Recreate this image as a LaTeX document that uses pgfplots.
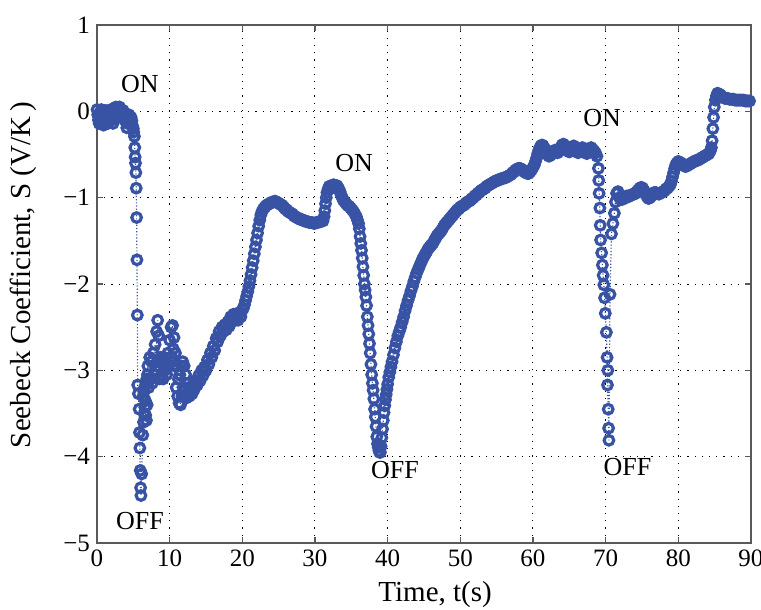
\documentclass[border=0pt]{standalone}
\usepackage{fontspec}
\setmainfont{Liberation Serif}
\usepackage{pgfplots}
\pgfplotsset{compat=1.18}
\definecolor{mblue}{RGB}{57,83,164}
\begin{document}
\begin{tikzpicture}
\useasboundingbox (-48.5pt,-33.5pt) rectangle (332pt,271.5pt);
\begin{axis}[
  at={(0,0)}, anchor=south west,
  width=327pt, height=259pt, scale only axis,
  xmin=0, xmax=90, ymin=-5, ymax=1,
  xtick={0,10,...,90},
  ytick={-5,-4,-3,-2,-1,0,1},
  yticklabels={−5,−4,−3,−2,−1,0,1},
  grid=major,
  major grid style={black, line width=0.5pt, dash pattern=on 0.6pt off 3pt},
  tick align=inside,
  major tick length=3pt,
  axis line style={line width=0.75pt, black!65},
  tick style={line width=0.6pt, black!65},
  tick label style={font=\fontsize{12.5}{14}\selectfont},
  /pgf/number format/assume math mode=true,
  xlabel={Time, t(s)},
  ylabel={Seebeck Coefficient, S (V/K\,)},
  label style={font=\fontsize{14.5}{16}\selectfont},
  xlabel style={at={(axis description cs:0.517,-0.1)}, anchor=center},
  ylabel style={at={(axis description cs:-0.113,0.517)}, anchor=center},
  clip=false,
]
\addplot[color=mblue, densely dotted, line width=0.6pt,
  mark=o, mark size=2.4pt, mark options={solid, line width=1.6pt}]
coordinates {
(0.0,0.02) (0.1,-0.04) (0.2,-0.10) (0.3,-0.14) (0.4,-0.07) (0.5,-0.01) (0.6,0.02) (0.7,-0.05)
(0.8,-0.12) (0.9,-0.16) (1.0,-0.10) (1.1,-0.03) (1.2,0.01) (1.3,-0.03) (1.4,-0.09) (1.5,-0.14)
(1.6,-0.10) (1.7,-0.04) (1.8,0.00) (1.9,0.02) (2.0,-0.04) (2.1,-0.10) (2.2,-0.14) (2.3,-0.07)
(2.4,-0.01) (2.5,0.03) (2.6,0.05) (2.7,0.04) (2.8,0.00) (2.9,-0.04) (3.0,0.02) (3.1,0.05)
(3.2,0.03) (3.3,-0.02) (3.4,-0.07) (3.5,-0.03) (3.6,0.01) (3.7,-0.05) (3.8,-0.10) (3.9,-0.06)
(4.0,-0.12) (4.1,-0.19) (4.2,-0.14) (4.3,-0.08) (4.4,-0.04) (4.5,-0.09) (4.6,-0.14) (4.7,-0.07)
(4.8,-0.11) (4.9,-0.17) (5.0,-0.20) (5.05,-0.24)
(5.15,-0.29) (5.2,-0.42) (5.25,-0.53) (5.3,-0.60) (5.35,-0.71) (5.4,-0.89) (5.45,-1.23) (5.5,-1.72)
(5.55,-2.36) (5.6,-3.17) (5.7,-3.27) (5.8,-3.45) (5.85,-3.72) (5.9,-3.90) (5.95,-4.16) (6.0,-4.36)
(6.05,-4.45) (6.15,-4.2) (6.3,-3.75) (6.35,-3.3) (6.4,-3.6) (6.45,-3.25) (6.5,-3.5) (6.55,-3.2)
(6.6,-3.43) (6.65,-3.35) (6.7,-3.52) (6.75,-3.15) (6.8,-3.58) (6.85,-3.1) (6.9,-3.4) (6.95,-3.05)
(7.0,-2.95) (7.1,-3.2) (7.25,-2.85) (7.35,-3.1) (7.5,-2.9) (7.6,-3.15) (7.75,-2.8) (7.85,-3.05)
(8.0,-2.7) (8.1,-3.0) (8.2,-2.55) (8.3,-2.9) (8.35,-2.42) (8.45,-2.95) (8.5,-2.6) (8.6,-3.1)
(8.75,-2.85) (8.85,-3.05) (9.0,-2.9) (9.1,-3.1) (9.25,-2.85) (9.35,-3.0) (9.5,-2.88) (9.6,-3.05)
(9.75,-2.8) (9.85,-2.95) (10.0,-2.65) (10.1,-2.9) (10.2,-2.5) (10.3,-2.85) (10.4,-2.48) (10.5,-2.75)
(10.6,-2.62) (10.7,-2.95) (10.8,-2.8) (10.9,-3.2) (11.0,-2.95) (11.1,-3.3) (11.2,-3.1) (11.3,-3.38)
(11.4,-3.05) (11.5,-3.4) (11.6,-2.95) (11.7,-3.3) (11.8,-2.9) (11.9,-3.2) (12.0,-2.95) (12.1,-3.3)
(12.2,-3.05) (12.3,-3.32) (12.4,-3.15) (12.5,-3.3) (12.6,-3.2) (12.7,-3.3) (12.8,-3.22) (12.9,-3.28)
(13.0,-3.2) (13.1,-3.27)
(13.2,-3.17) (13.4,-3.22) (13.6,-3.12) (13.8,-3.17) (14.0,-3.06) (14.2,-3.12) (14.4,-3.0) (14.6,-3.06)
(14.8,-2.96) (15.0,-3.0) (15.2,-2.88) (15.4,-2.93) (15.6,-2.8) (15.8,-2.85) (16.0,-2.72) (16.2,-2.77)
(16.4,-2.63) (16.6,-2.67) (16.8,-2.55) (17.0,-2.6) (17.2,-2.5) (17.4,-2.55) (17.6,-2.47) (17.8,-2.53)
(18.0,-2.44) (18.2,-2.49) (18.4,-2.38) (18.6,-2.43) (18.8,-2.35) (19.0,-2.42) (19.2,-2.37) (19.4,-2.42)
(19.6,-2.33) (19.8,-2.38) (20.0,-2.30) (20.15,-2.28) (20.3,-2.24) (20.45,-2.19) (20.6,-2.14) (20.75,-2.09)
(20.9,-2.03) (21.05,-1.96) (21.2,-1.89) (21.35,-1.81) (21.5,-1.73) (21.65,-1.65) (21.8,-1.57) (21.95,-1.49)
(22.1,-1.41) (22.25,-1.33) (22.4,-1.26) (22.55,-1.2) (22.7,-1.16) (22.9,-1.13) (23.1,-1.11) (23.3,-1.09)
(23.5,-1.08) (23.7,-1.07) (23.9,-1.06) (24.1,-1.05) (24.3,-1.05) (24.5,-1.04) (24.7,-1.05) (24.9,-1.06)
(25.1,-1.07) (25.3,-1.08) (25.5,-1.09) (25.7,-1.11) (25.9,-1.13) (26.1,-1.14) (26.3,-1.16) (26.5,-1.17)
(26.7,-1.18) (26.9,-1.19) (27.1,-1.21) (27.3,-1.22) (27.5,-1.23) (27.7,-1.24) (27.9,-1.25) (28.1,-1.25)
(28.3,-1.26) (28.5,-1.27) (28.7,-1.27) (28.9,-1.28) (29.1,-1.28) (29.3,-1.29) (29.5,-1.29) (29.7,-1.29)
(29.9,-1.30) (30.1,-1.29) (30.3,-1.29) (30.5,-1.28) (30.7,-1.28) (30.9,-1.27) (31.1,-1.27) (31.25,-1.22)
(31.35,-1.15) (31.45,-1.07) (31.55,-1.0) (31.65,-0.94) (31.8,-0.9) (31.95,-0.87) (32.1,-0.89) (32.25,-0.86)
(32.4,-0.88) (32.55,-0.85) (32.7,-0.87) (32.85,-0.89) (33.0,-0.86) (33.15,-0.88) (33.3,-0.9) (33.45,-0.93)
(33.6,-0.97) (33.75,-1.0) (33.9,-1.03) (34.1,-1.05) (34.3,-1.07) (34.5,-1.09) (34.7,-1.1) (34.9,-1.12)
(35.1,-1.14) (35.3,-1.16) (35.5,-1.19) (35.7,-1.22) (35.85,-1.26) (36.0,-1.3)
(36.1,-1.36) (36.2,-1.45) (36.3,-1.53) (36.4,-1.61) (36.5,-1.70) (36.6,-1.80) (36.7,-1.90) (36.8,-2.0)
(36.9,-2.07) (37.0,-2.15) (37.1,-2.25) (37.2,-2.38) (37.3,-2.48) (37.4,-2.58) (37.5,-2.69) (37.6,-2.80)
(37.7,-2.93) (37.8,-3.05) (37.9,-3.15) (38.0,-3.23) (38.1,-3.33) (38.2,-3.45) (38.3,-3.54) (38.4,-3.65)
(38.5,-3.77) (38.6,-3.85) (38.7,-3.89) (38.8,-3.93) (38.9,-3.95)
(39.0,-3.95) (39.1,-3.88) (39.2,-3.78) (39.3,-3.68) (39.4,-3.58) (39.5,-3.49) (39.6,-3.41) (39.7,-3.34)
(39.8,-3.28) (39.9,-3.22) (40.0,-3.16) (40.15,-3.08) (40.3,-3.02) (40.45,-2.96) (40.6,-2.9) (40.8,-2.82)
(41.0,-2.74) (41.2,-2.67) (41.4,-2.6) (41.6,-2.55) (41.8,-2.5) (42.0,-2.44) (42.2,-2.38) (42.4,-2.31)
(42.6,-2.25) (42.8,-2.19) (43.0,-2.14) (43.2,-2.08) (43.4,-2.03) (43.6,-1.97) (43.8,-1.92) (44.0,-1.87)
(44.2,-1.83) (44.4,-1.79) (44.6,-1.75) (44.8,-1.71) (45.0,-1.68) (45.2,-1.65) (45.4,-1.62) (45.6,-1.59)
(45.8,-1.57) (46.0,-1.55) (46.2,-1.53) (46.4,-1.5) (46.6,-1.47) (46.8,-1.44) (47.0,-1.42) (47.2,-1.40)
(47.4,-1.38) (47.6,-1.35) (47.8,-1.32) (48.0,-1.30) (48.2,-1.28) (48.4,-1.26) (48.6,-1.24) (48.8,-1.22)
(49.0,-1.20) (49.2,-1.18) (49.4,-1.16) (49.6,-1.14) (49.8,-1.13) (50.0,-1.11) (50.2,-1.10) (50.4,-1.09)
(50.6,-1.08) (50.8,-1.06) (51.0,-1.05) (51.2,-1.04) (51.4,-1.03) (51.6,-1.01) (51.8,-1.00) (52.0,-0.98)
(52.2,-0.97) (52.4,-0.95) (52.6,-0.94) (52.8,-0.92) (53.0,-0.91) (53.2,-0.90) (53.4,-0.89) (53.6,-0.87)
(53.8,-0.86) (54.0,-0.85) (54.2,-0.84) (54.4,-0.83) (54.6,-0.82) (54.8,-0.81) (55.0,-0.80) (55.2,-0.80)
(55.4,-0.79) (55.6,-0.78) (55.8,-0.78) (56.0,-0.77) (56.2,-0.77) (56.4,-0.76) (56.6,-0.75) (56.8,-0.74)
(57.0,-0.73) (57.2,-0.71) (57.4,-0.70) (57.6,-0.68) (57.8,-0.67) (58.0,-0.66) (58.2,-0.66) (58.4,-0.67)
(58.6,-0.68) (58.8,-0.70) (59.0,-0.71) (59.2,-0.72) (59.4,-0.72) (59.6,-0.70) (59.8,-0.68) (60.0,-0.65)
(60.2,-0.62) (60.35,-0.58) (60.5,-0.54) (60.65,-0.49) (60.8,-0.45) (60.95,-0.42) (61.1,-0.40) (61.25,-0.39)
(61.4,-0.40) (61.6,-0.43)
(61.8,-0.47) (62.0,-0.50) (62.2,-0.52) (62.4,-0.51) (62.6,-0.49) (62.8,-0.47) (63.0,-0.45) (63.2,-0.46)
(63.4,-0.48) (63.6,-0.45) (63.8,-0.42) (64.0,-0.39) (64.2,-0.38) (64.4,-0.40) (64.6,-0.43) (64.8,-0.46)
(65.0,-0.47) (65.2,-0.45) (65.4,-0.42) (65.6,-0.40) (65.8,-0.43) (66.0,-0.46) (66.2,-0.48) (66.4,-0.45)
(66.6,-0.43) (66.8,-0.42) (67.0,-0.44) (67.2,-0.47) (67.4,-0.49) (67.6,-0.46) (67.8,-0.43) (68.0,-0.42)
(68.2,-0.44) (68.4,-0.46) (68.6,-0.48) (68.8,-0.52)
(69.0,-0.66) (69.05,-0.80) (69.1,-0.95) (69.2,-1.12) (69.25,-1.32) (69.3,-1.49) (69.45,-1.64)
(69.55,-1.78) (69.65,-1.90) (69.75,-2.01) (69.85,-2.16) (69.95,-2.34) (70.1,-2.56) (70.2,-2.85) (70.3,-3.0)
(70.25,-3.17) (70.35,-3.45) (70.4,-3.67) (70.45,-3.81) (70.6,-2.12) (70.8,-1.42) (71.0,-1.30) (71.2,-1.18)
(71.35,-1.05) (71.5,-0.95) (71.7,-0.93) (71.9,-1.0) (72.1,-1.02)
(72.3,-1.02) (72.5,-1.01) (72.7,-1.0) (72.9,-0.98) (73.1,-0.99) (73.3,-0.98) (73.5,-0.97) (73.7,-0.96)
(73.9,-0.96) (74.1,-0.95) (74.3,-0.93) (74.5,-0.91) (74.7,-0.89) (74.9,-0.88) (75.1,-0.89) (75.3,-0.92)
(75.5,-0.96) (75.7,-0.99) (75.9,-1.01) (76.1,-1.0) (76.3,-0.98) (76.5,-0.95) (76.7,-0.94) (76.9,-0.94)
(77.1,-0.95) (77.3,-0.96) (77.5,-0.95) (77.7,-0.94) (77.9,-0.93) (78.1,-0.92) (78.3,-0.90) (78.5,-0.89)
(78.7,-0.87) (78.9,-0.85) (79.05,-0.81) (79.2,-0.76) (79.35,-0.71) (79.5,-0.66) (79.65,-0.62) (79.8,-0.60)
(80.0,-0.58) (80.2,-0.59) (80.4,-0.60) (80.6,-0.62) (80.8,-0.63) (81.0,-0.64) (81.2,-0.63) (81.4,-0.62)
(81.6,-0.61) (81.8,-0.60) (82.0,-0.59) (82.2,-0.58) (82.4,-0.57) (82.6,-0.57) (82.8,-0.56) (83.0,-0.55)
(83.2,-0.54) (83.4,-0.53) (83.6,-0.52) (83.8,-0.51) (84.0,-0.50) (84.2,-0.49) (84.4,-0.46) (84.55,-0.42)
(84.65,-0.34) (84.75,-0.20) (84.85,-0.07) (84.95,0.05) (85.1,0.13) (85.25,0.18) (85.4,0.21) (85.6,0.20)
(85.8,0.19) (86.0,0.17) (86.2,0.16) (86.4,0.15) (86.6,0.15) (86.8,0.15) (87.0,0.14) (87.2,0.14)
(87.4,0.14) (87.6,0.14) (87.8,0.13) (88.0,0.13) (88.2,0.13) (88.4,0.13) (88.6,0.13) (88.8,0.13)
(89.0,0.13) (89.2,0.12) (89.4,0.12) (89.6,0.12) (89.8,0.12)
};
\node[font=\fontsize{13}{15}\selectfont] at (axis cs:5.9,0.32) {ON};
\node[font=\fontsize{13}{15}\selectfont] at (axis cs:5.9,-4.75) {OFF};
\node[font=\fontsize{13}{15}\selectfont] at (axis cs:35.4,-0.6) {ON};
\node[font=\fontsize{13}{15}\selectfont] at (axis cs:41.0,-4.16) {OFF};
\node[font=\fontsize{13}{15}\selectfont] at (axis cs:69.5,-0.08) {ON};
\node[font=\fontsize{13}{15}\selectfont] at (axis cs:73.0,-4.12) {OFF};
\end{axis}
\end{tikzpicture}
\end{document}
